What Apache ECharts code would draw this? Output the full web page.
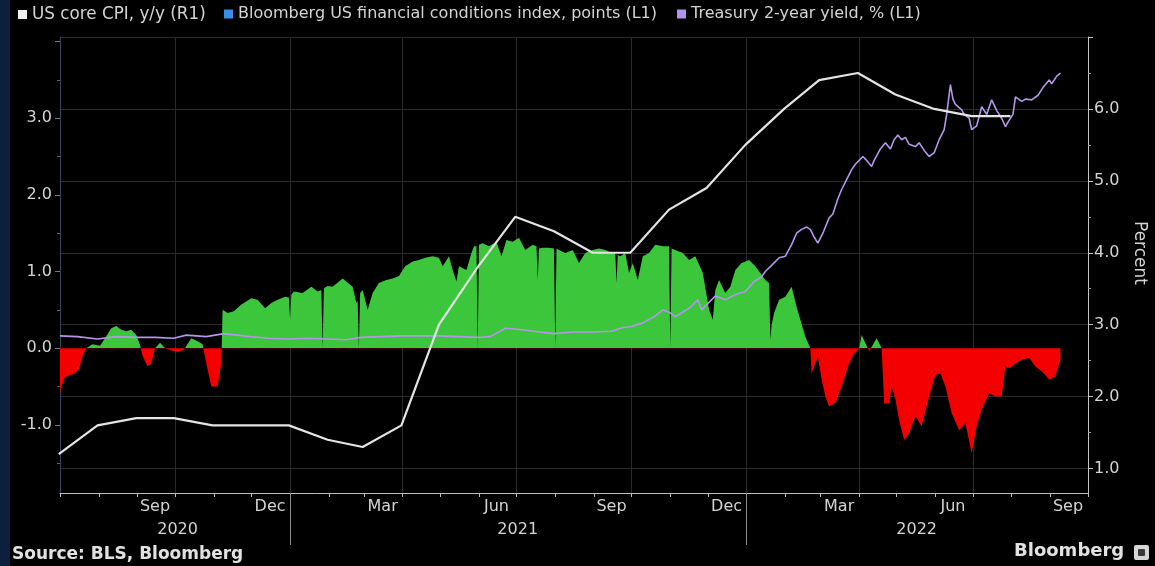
<!DOCTYPE html>
<html><head><meta charset="utf-8">
<script src="https://cdn.jsdelivr.net/npm/echarts@6/dist/echarts.min.js"></script>
<style>html,body{margin:0;padding:0;background:#000;}#c{width:1155px;height:566px;}</style>
</head><body><div id="c"></div>
<script>
// ---- data ----
const cpiName = 'US core CPI, y/y (R1)';
const fciName = 'Bloomberg US financial conditions index, points (L1)';
const ust2Name = 'Treasury 2-year yield, % (L1)';

const cpiDates = ['2020-06-30','2020-07-31','2020-08-31','2020-09-30','2020-10-31','2020-11-30','2020-12-31',
  '2021-01-31','2021-02-28','2021-03-31','2021-04-30','2021-05-31','2021-06-30','2021-07-31','2021-08-31','2021-09-30',
  '2021-10-31','2021-11-30','2021-12-31','2022-01-31','2022-02-28','2022-03-31','2022-04-30','2022-05-31','2022-06-30','2022-07-31'];
const cpiValues = [1.2,1.6,1.7,1.7,1.6,1.6,1.6,1.4,1.3,1.6,3.0,3.8,4.5,4.3,4.0,4.0,4.6,4.9,5.5,6.0,6.4,6.5,6.2,6.0,5.9,5.9];

const fciDates = ['2020-07-01','2020-07-02','2020-07-05','2020-07-09','2020-07-13','2020-07-16','2020-07-19','2020-07-22','2020-07-27',
  '2020-08-02','2020-08-06','2020-08-11','2020-08-15','2020-08-19','2020-08-23','2020-08-27','2020-08-31',
  '2020-09-03','2020-09-05','2020-09-09','2020-09-12','2020-09-15','2020-09-19','2020-09-23','2020-09-28',
  '2020-10-03','2020-10-08','2020-10-14','2020-10-19','2020-10-23','2020-10-26','2020-10-30',
  '2020-11-04','2020-11-07','2020-11-08','2020-11-12','2020-11-17','2020-11-23',
  '2020-12-01','2020-12-06','2020-12-12','2020-12-17','2020-12-22','2020-12-28','2020-12-31',
  '2021-01-01','2021-01-02','2021-01-04','2021-01-11','2021-01-18','2021-01-23','2021-01-26','2021-01-27','2021-01-28','2021-01-31',
  '2021-02-04','2021-02-12','2021-02-20','2021-02-23','2021-02-24','2021-02-25','2021-02-26','2021-02-28',
  '2021-03-04','2021-03-08','2021-03-13','2021-03-19','2021-03-24','2021-03-29',
  '2021-04-03','2021-04-09','2021-04-14','2021-04-19','2021-04-25','2021-04-30',
  '2021-05-03','2021-05-08','2021-05-11','2021-05-14','2021-05-16','2021-05-22','2021-05-26','2021-05-28','2021-05-30','2021-05-31','2021-06-01',
  '2021-06-04','2021-06-09','2021-06-15','2021-06-19','2021-06-23','2021-06-28',
  '2021-07-03','2021-07-08','2021-07-14','2021-07-17','2021-07-18','2021-07-19','2021-07-22','2021-07-27','2021-07-31',
  '2021-08-01','2021-08-02','2021-08-04','2021-08-09','2021-08-15','2021-08-20','2021-08-25','2021-08-31',
  '2021-09-05','2021-09-10','2021-09-15','2021-09-18','2021-09-19','2021-09-20','2021-09-22','2021-09-26','2021-09-29',
  '2021-10-02','2021-10-06','2021-10-10','2021-10-15','2021-10-20','2021-10-26','2021-10-31',
  '2021-11-01','2021-11-02','2021-11-05','2021-11-11','2021-11-16','2021-11-21','2021-11-27',
  '2021-12-02','2021-12-05','2021-12-07','2021-12-10','2021-12-15','2021-12-19','2021-12-23','2021-12-28',
  '2022-01-03','2022-01-08','2022-01-12','2022-01-16','2022-01-19','2022-01-20','2022-01-21','2022-01-23','2022-01-27',
  '2022-02-01','2022-02-06','2022-02-10','2022-02-13','2022-02-17','2022-02-21','2022-02-22','2022-02-27',
  '2022-03-02','2022-03-05','2022-03-08','2022-03-13','2022-03-18','2022-03-24','2022-03-28',
  '2022-04-01','2022-04-03','2022-04-09','2022-04-15','2022-04-19','2022-04-21','2022-04-25','2022-04-27','2022-04-30',
  '2022-05-03','2022-05-07','2022-05-11','2022-05-16','2022-05-21','2022-05-27',
  '2022-06-01','2022-06-05','2022-06-09','2022-06-14','2022-06-20','2022-06-25','2022-06-30',
  '2022-07-04','2022-07-08','2022-07-14','2022-07-19','2022-07-24','2022-07-27','2022-07-31',
  '2022-08-04','2022-08-09','2022-08-15','2022-08-20','2022-08-25','2022-08-31',
  '2022-09-05','2022-09-09'];
const fciValues = [-0.59,-0.50,-0.38,-0.35,-0.33,-0.28,-0.11,0.0,0.05,
  0.03,0.13,0.26,0.29,0.24,0.22,0.24,0.17,
  0.04,-0.10,-0.24,-0.20,0.0,0.07,0.0,-0.03,
  -0.05,-0.02,0.13,0.09,0.05,-0.20,-0.50,
  -0.50,-0.20,0.50,0.46,0.48,0.57,
  0.65,0.63,0.52,0.59,0.63,0.67,0.66,
  0.37,0.70,0.74,0.72,0.80,0.74,0.76,0.0,0.78,0.81,
  0.80,0.91,0.80,0.59,0.62,0.0,0.72,0.76,
  0.50,0.72,0.85,0.89,0.91,0.94,
  1.07,1.13,1.15,1.18,1.20,1.18,
  1.07,1.20,1.02,0.87,1.07,1.02,1.24,1.33,1.33,0.0,1.35,
  1.37,1.33,1.39,1.20,1.41,1.39,
  1.44,1.28,1.35,1.33,0.89,1.30,1.31,1.31,1.30,
  0.0,1.30,1.28,1.24,1.28,1.11,1.24,1.28,
  1.30,1.28,1.24,1.24,0.85,1.22,1.20,1.24,0.98,
  1.11,0.89,1.20,1.24,1.35,1.33,1.33,
  0.0,1.30,1.28,1.24,1.15,1.20,0.98,
  0.50,0.37,0.76,0.89,0.72,0.80,1.02,1.11,
  1.15,1.07,0.98,0.89,0.85,0.11,0.30,0.46,0.63,
  0.67,0.80,0.54,0.37,0.15,0.0,-0.33,-0.11,
  -0.41,-0.63,-0.76,-0.72,-0.50,-0.20,-0.07,
  0.0,0.17,-0.04,0.13,0.0,-0.72,-0.72,-0.50,-0.67,
  -0.94,-1.20,-1.11,-0.89,-1.02,-0.63,
  -0.35,-0.33,-0.50,-0.85,-1.07,-0.98,-1.37,
  -1.02,-0.80,-0.59,-0.63,-0.63,-0.24,-0.26,
  -0.20,-0.15,-0.13,-0.24,-0.30,-0.41,
  -0.37,-0.15];

const ust2Dates = ['2020-07-01','2020-07-15','2020-07-31','2020-08-15','2020-08-31','2020-09-15','2020-09-30','2020-10-10','2020-10-26',
  '2020-11-09','2020-11-30','2020-12-15','2020-12-31','2021-01-15','2021-01-31','2021-02-15','2021-02-26','2021-03-15','2021-03-31',
  '2021-04-15','2021-04-30','2021-05-15','2021-05-31','2021-06-10','2021-06-17','2021-06-22','2021-06-30','2021-07-15','2021-07-31',
  '2021-08-15','2021-08-31','2021-09-15','2021-09-24','2021-09-30','2021-10-10','2021-10-20','2021-10-26','2021-11-01','2021-11-05',
  '2021-11-16','2021-11-23','2021-11-26','2021-12-07','2021-12-15','2021-12-23','2021-12-31',
  '2022-01-07','2022-01-13','2022-01-16','2022-01-21','2022-01-27','2022-02-01','2022-02-06','2022-02-10','2022-02-14','2022-02-18',
  '2022-02-21','2022-02-24','2022-02-27','2022-03-03','2022-03-08','2022-03-11','2022-03-15','2022-03-18','2022-03-22','2022-03-26',
  '2022-03-29','2022-04-01','2022-04-04','2022-04-07','2022-04-11','2022-04-13','2022-04-18','2022-04-22','2022-04-26','2022-04-29',
  '2022-05-02','2022-05-05','2022-05-08','2022-05-11','2022-05-16','2022-05-19','2022-05-23','2022-05-27','2022-05-31',
  '2022-06-04','2022-06-08','2022-06-10','2022-06-13','2022-06-15','2022-06-17','2022-06-22','2022-06-24','2022-06-28','2022-06-30',
  '2022-07-04','2022-07-08','2022-07-12','2022-07-16','2022-07-20','2022-07-24','2022-07-27','2022-07-29',
  '2022-08-02','2022-08-04','2022-08-09','2022-08-12','2022-08-17','2022-08-22','2022-08-26','2022-08-31',
  '2022-09-02','2022-09-06','2022-09-09'];
const ust2Values = [0.16,0.15,0.12,0.15,0.14,0.14,0.13,0.17,0.15,
  0.19,0.15,0.13,0.12,0.13,0.12,0.11,0.14,0.15,0.16,
  0.16,0.16,0.15,0.14,0.15,0.21,0.26,0.25,0.22,0.19,
  0.21,0.21,0.22,0.27,0.28,0.33,0.42,0.50,0.46,0.41,
  0.52,0.63,0.50,0.68,0.63,0.70,0.74,
  0.87,0.93,1.00,1.08,1.18,1.20,1.35,1.50,1.55,1.58,
  1.55,1.45,1.37,1.50,1.70,1.75,1.95,2.07,2.20,2.33,
  2.40,2.45,2.50,2.45,2.37,2.45,2.60,2.68,2.60,2.72,
  2.78,2.72,2.75,2.66,2.63,2.68,2.58,2.50,2.55,
  2.72,2.85,3.05,3.44,3.25,3.18,3.11,3.05,3.00,2.85,
  2.90,3.15,3.05,3.24,3.10,3.00,2.89,2.95,
  3.05,3.28,3.22,3.25,3.24,3.30,3.40,3.50,
  3.45,3.55,3.59];

// axis ticks / labels
const axisStart = '2020-07-01';
const axisEnd = '2022-10-01';
const monthLabelDays = ['2020-09-15','2020-12-16','2021-03-16','2021-06-15','2021-09-15','2021-12-16','2022-03-16','2022-06-15','2022-09-15'];
const monthLabels = ['Sep','Dec','Mar','Jun','Sep','Dec','Mar','Jun','Sep'];
const yearLabelDays = ['2020-10-03','2021-07-02','2022-05-17'];
const yearLabels = ['2020','2021','2022'];
const leftLabelValues = [-1,0,1,2,3];
const leftMajorTicks = [-1,0,1,2,3,4];
const leftMinorTicks = [-1.5,-0.5,0.5,1.5,2.5,3.5];
const rightLabelValues = [1,2,3,4,5,6];
const rightMajorTicks = [1,2,3,4,5,6,7];
const rightMinorTicks = [1.5,2.5,3.5,4.5,5.5,6.5];

// ---- build ----
const days = [];
for (let t = Date.UTC(2020,6,1); t <= Date.UTC(2022,9,1); t += 86400000) days.push(new Date(t).toISOString().slice(0,10));
const pairs = (ds, vs) => ds.map((d,i) => [d, vs[i]]);

const FONT = 'DejaVu Sans';
const txt = '#d4d4d4';
const chart = echarts.init(document.getElementById('c'));
const legendBase = {top: 6, padding: 0, icon: 'rect', itemWidth: 9, itemHeight: 9, selectedMode: false,
  textStyle: {color: txt, fontSize: 16, fontFamily: FONT}};
chart.setOption({
  backgroundColor: '#000',
  animation: false,
  textStyle: {fontFamily: FONT},
  grid: {left: 60, right: 67, top: 37, bottom: 73, outerBoundsMode: 'none'},
  legend: [
    Object.assign({}, legendBase, {left: 18, data: [{name: cpiName, itemStyle: {color: '#f0f0f0'}}],
      textStyle: {color: txt, fontSize: 16.8, fontFamily: FONT}}),
    Object.assign({}, legendBase, {left: 224, data: [{name: fciName, itemStyle: {color: '#3b8ee8'}}]}),
    Object.assign({}, legendBase, {left: 677, data: [{name: ust2Name, itemStyle: {color: '#b48ff0'}}]})
  ],
  xAxis: [
    {type: 'time', min: axisStart, max: axisEnd, show: false, axisLine: {onZero: false}},
    {type: 'category', data: days, boundaryGap: false, position: 'bottom',
      axisLine: {show: true, onZero: false, lineStyle: {color: '#bdbdbd', width: 1}},
      axisTick: {show: true, interval: (i, v) => v.slice(8) === '01', length: 4, lineStyle: {color: '#bdbdbd'}},
      axisLabel: {interval: (i, v) => monthLabelDays.indexOf(v) >= 0,
        formatter: v => monthLabels[monthLabelDays.indexOf(v)] || '',
        color: txt, fontSize: 16, fontFamily: FONT, margin: 6},
      splitLine: {show: true, interval: (i, v) => v.slice(8) === '01' && ['01','04','07','10'].indexOf(v.slice(5,7)) >= 0,
        lineStyle: {color: '#2b2b2b', width: 1}}
    },
    {type: 'category', data: days, boundaryGap: false, position: 'bottom',
      axisLine: {show: false, onZero: false},
      axisTick: {show: true, interval: (i, v) => v.slice(5) === '01-01', length: 52, lineStyle: {color: '#8c8c8c'}},
      axisLabel: {interval: (i, v) => yearLabelDays.indexOf(v) >= 0,
        formatter: v => yearLabels[yearLabelDays.indexOf(v)] || '',
        color: txt, fontSize: 16, fontFamily: FONT, margin: 29},
      splitLine: {show: false}
    }
  ],
  yAxis: [
    {type: 'value', position: 'left', min: -1.89, max: 4.06,
      axisLine: {show: true, onZero: false, lineStyle: {color: '#34465e'}},
      axisTick: {show: true, customValues: leftMajorTicks, length: 5, lineStyle: {color: '#6a7a90'}},
      axisLabel: {customValues: leftLabelValues, formatter: v => Number(v).toFixed(1), color: txt, fontSize: 16, fontFamily: FONT, margin: 8},
      splitLine: {show: false}},
    {type: 'value', position: 'right', min: 0.66, max: 7.0,
      name: 'Percent', nameLocation: 'middle', nameRotate: -90, nameGap: 43,
      nameTextStyle: {color: txt, fontSize: 17, fontFamily: FONT, padding: [0, 24, 0, 0]},
      axisLine: {show: true, onZero: false, lineStyle: {color: '#c4c4c4'}},
      axisTick: {show: true, customValues: rightMajorTicks, length: 5, lineStyle: {color: '#c4c4c4'}},
      axisLabel: {customValues: rightLabelValues, formatter: v => Number(v).toFixed(1), color: txt, fontSize: 16, fontFamily: FONT, margin: 6},
      splitLine: {show: true, lineStyle: {color: '#2b2b2b', width: 1}}},
    {type: 'value', position: 'left', min: -1.89, max: 4.06,
      axisLine: {show: false, onZero: false}, axisLabel: {show: false}, splitLine: {show: false},
      axisTick: {show: true, customValues: leftMinorTicks, length: 3, lineStyle: {color: '#55657a'}}},
    {type: 'value', position: 'right', min: 0.66, max: 7.0,
      axisLine: {show: false, onZero: false}, axisLabel: {show: false}, splitLine: {show: false},
      axisTick: {show: true, customValues: rightMinorTicks, length: 3, lineStyle: {color: '#a0a0a0'}}}
  ],
  visualMap: {show: false, type: 'piecewise', seriesIndex: 0, dimension: 1,
    pieces: [{gte: -10, lt: 0, color: '#f40000'}, {gte: 0, lte: 10, color: '#3cc63c'}]},
  series: [
    {name: fciName, type: 'line', xAxisIndex: 0, yAxisIndex: 0, data: pairs(fciDates, fciValues),
      showSymbol: false, symbol: 'none', lineStyle: {width: 0}, areaStyle: {opacity: 1},
      itemStyle: {color: '#3b8ee8'}, z: 1, silent: true},
    {name: ust2Name, type: 'line', xAxisIndex: 0, yAxisIndex: 0, data: pairs(ust2Dates, ust2Values),
      showSymbol: false, symbol: 'none', lineStyle: {width: 1.6, color: '#b496ea'},
      itemStyle: {color: '#b48ff0'}, z: 3, silent: true},
    {name: cpiName, type: 'line', xAxisIndex: 0, yAxisIndex: 1, data: pairs(cpiDates, cpiValues),
      showSymbol: false, symbol: 'none', lineStyle: {width: 2.2, color: '#e4e4e4'},
      itemStyle: {color: '#f0f0f0'}, z: 4, silent: true}
  ],
  graphic: [
    {type: 'rect', left: 0, top: 0, shape: {width: 10, height: 566}, style: {fill: '#0b1f40'}, silent: true},
    {type: 'text', left: 12, top: 546, style: {text: 'Source: BLS, Bloomberg', fill: '#e2e2e2', font: 'bold 17px "DejaVu Sans"'}},
    {type: 'text', left: 1014, top: 542, style: {text: 'Bloomberg', fill: '#e2e2e2', font: 'bold 18px "DejaVu Sans"'}},
    {type: 'rect', left: 1134, top: 545, shape: {width: 15, height: 15, r: 2}, style: {fill: '#d6d6d6'}},
    {type: 'rect', left: 1138, top: 549, shape: {width: 7, height: 7, r: 1}, style: {fill: '#3a3a3a'}}
  ]
});
</script></body></html>
